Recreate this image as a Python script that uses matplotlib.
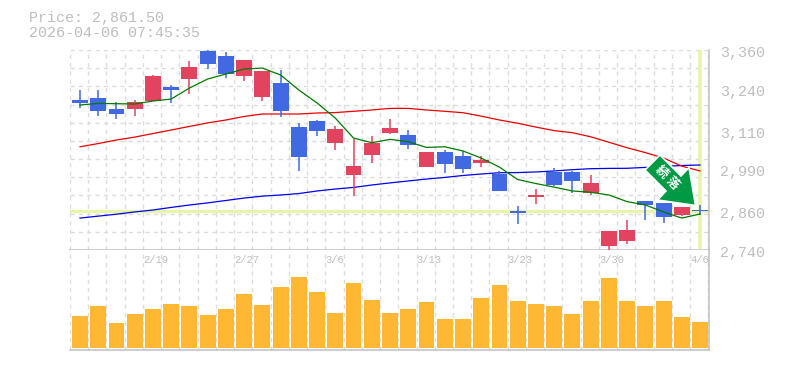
import numpy as np
import matplotlib
matplotlib.use('Agg')
import matplotlib.pyplot as plt
from matplotlib.patches import Polygon

W, H = 785, 370

# price data
opens = [3205, 3211, 3177, 3177, 3202, 3245, 3270, 3357, 3341, 3279.5, 3214.5, 3258, 3121.5, 3140, 3071.5,
         2972.5, 3034.5, 3102.5, 3096.5, 2997.5, 3044, 3031.5, 3009.5, 2975.5, 2861, 2904.5, 2982, 2982, 2916.5,
         2752.5, 2768, 2892, 2885.5, 2848.5, 2862.5]
closes = [3195.5, 3171, 3161.5, 3198.5, 3279.5, 3236, 3307.5, 3316.5, 3285.5, 3329, 3295, 3171, 3028.5, 3109, 3115,
          3000.5, 3071.5, 3118, 3065.5, 3044, 3006.5, 2991, 3019, 2923, 2854.5, 2910.5, 2941.5, 2954, 2947.5,
          2799, 2802, 2879.5, 2842.5, 2873.5, 2861.5]
highs = [3236, 3236, 3199, 3205, 3282.5, 3251.5, 3326, 3360, 3354, 3329, 3295, 3298, 3133.5, 3143, 3124.5,
         3084, 3093.5, 3146, 3112, 3044, 3050, 3047, 3031.5, 2985, 2876.5, 2929, 2994, 2985, 2972.5,
         2799, 2833, 2892, 2885.5, 2873.5, 2879.5]
lows = [3181, 3155.5, 3146, 3155.5, 3202, 3195.5, 3223.5, 3301, 3273, 3264, 3202, 3152.5, 2985, 3093.5, 3050,
        2907.5, 3009.5, 3099.5, 3053, 2997.5, 2978.5, 2978.5, 2997.5, 2923, 2820.5, 2882.5, 2938.5, 2916.5, 2910.5,
        2737, 2758.5, 2833, 2823.5, 2845.5, 2848.5]
volume = [32, 42, 25, 34, 39, 44, 42, 33, 39, 54, 43, 61, 71, 56, 35, 65, 48, 35,
          39, 46, 29, 29, 50, 63, 47, 44, 42, 34, 47, 70, 47, 42, 47, 31, 26]

# moving averages
ma_short = [3189.5, 3194.5, 3193.5, 3192.6, 3201.9, 3208, 3242, 3270, 3285.6, 3301, 3304, 3282.5, 3236, 3195.7, 3149,
            3087, 3072.6, 3083, 3075.7, 3058, 3060, 3047, 3025, 2997, 2958.5, 2946, 2935, 2923, 2919, 2910.5,
            2890, 2879.5, 2858, 2839, 2851.6]
ma_mid = [3060, 3070, 3081, 3090, 3101, 3112, 3123, 3134, 3143, 3154, 3161.6, 3161.6, 3161.6, 3164.7, 3166,
          3170, 3174, 3179, 3179, 3174, 3170, 3165.6, 3155, 3143, 3133, 3121, 3110, 3103.6, 3091, 3074,
          3057, 3042, 3025, 3000, 2985]
ma_long = [2839, 2845, 2851, 2858, 2864, 2872, 2879.5, 2886, 2893.5, 2901, 2907, 2910.5, 2915, 2923, 2929,
           2934, 2941.5, 2948, 2954, 2960, 2965, 2971, 2975.6, 2979.6, 2980, 2982, 2985, 2989, 2992, 2993,
           2993.3, 2996, 2999, 3002, 3003.5]

price_ticks = [3360, 3240, 3110, 2990, 2860, 2740]
price_labels = ['3,360', '3,240', '3,110', '2,990', '2,860', '2,740']
date_pos = [4, 9, 14, 19, 24, 29, 34]
date_labels = ['2/19', '2/27', '3/6', '3/13', '3/23', '3/30', '4/6']
last_price = 2861.5

GREY = '#bebebe'
GRID = '#dcdcdc'
BLUE = '#4169e1'
RED = '#e2435f'
PALE = '#e6f5a8'
MONO = 'Liberation Mono'

fig = plt.figure(figsize=(W / 100, H / 100), dpi=100)
ax = fig.add_axes([70 / W, (H - 250) / H, 639 / W, 200 / H])
ax_v = fig.add_axes([70 / W, (H - 350) / H, 639 / W, 100 / H])

x = np.arange(len(opens))
x_left, x_right = -0.548, 34.49
grid_x = np.arange(len(opens) + 1) - 0.548
grid_y = np.linspace(2740, 3360, 12)

for a in (ax, ax_v):
    a.set_xlim(x_left, x_right)
    a.set_xticks([])
    a.set_yticks([])
    for g in grid_x[1:]:
        a.axvline(g, color=GRID, lw=1, ls=(0, (3, 3)), zorder=1)
    a.axvline(x_left + 0.01, color=GRID, lw=1, ls=(0, (3, 3)), zorder=1)
    for s in ('top', 'left'):
        a.spines[s].set_visible(False)
    for s in ('right', 'bottom'):
        a.spines[s].set_color('#c0c0c0')
        a.spines[s].set_linewidth(1.1)

ax.set_ylim(2740, 3360)
for g in grid_y[1:]:
    ax.axhline(g, color=GRID, lw=1, ls=(0, (3, 3)), zorder=1)

# current price cross hair
ax.axhline(last_price, color=PALE, lw=2.4, zorder=2)
ax.plot([34, 34], [2743, 3360], color=PALE, lw=2.6, zorder=2, solid_capstyle='butt')

ax.plot(x, ma_long, color='#0000ee', lw=0.9, zorder=3)
ax.plot(x, ma_mid, color='#ee0000', lw=0.9, zorder=3)

# candles
for i in x:
    c = RED if closes[i] >= opens[i] else BLUE
    ax.plot([i, i], [lows[i], highs[i]], color=c, lw=1.1, zorder=4, solid_capstyle='butt', clip_on=False)
    ax.bar(i, abs(closes[i] - opens[i]), bottom=min(opens[i], closes[i]), width=0.87, color=c, lw=0, zorder=4)

ax.plot(x, ma_short, color='#007a00', lw=0.9, zorder=5)

ax_v.set_ylim(-2, 98)
ax_v.bar(x, volume, width=0.87, color='#ffb833', lw=0, zorder=3)

# price labels on the right side
for p, lab in zip(price_ticks, price_labels):
    ax.annotate(lab, xy=(1, p), xycoords=('axes fraction', 'data'), xytext=(11, -3), textcoords='offset pixels',
                ha='left', va='center', color=GREY, fontsize=10.8, family=MONO, annotation_clip=False)

# date labels, left edge on the grid line
for d, lab in zip(date_pos, date_labels):
    ax_v.annotate(lab, xy=(grid_x[d], 1), xycoords=('data', 'axes fraction'), xytext=(0, -10), textcoords='offset pixels',
                  ha='left', va='center', color=GREY, fontsize=7.6, family=MONO, zorder=2)

fig.text(29 / W, 1 - 18 / H, 'Price: 2,861.50', color=GREY, fontsize=10.8, family=MONO, va='center')
fig.text(29 / W, 1 - 33 / H, '2026-04-06 07:45:35', color=GREY, fontsize=10.8, family=MONO, va='center')

# signal arrow
arrow_px = [(660, 155), (681, 176), (689, 167.5), (695.5, 205.5), (657.5, 200), (666, 191), (645, 170)]
arrow_fig = [(px / W, 1 - py / H) for px, py in arrow_px]
fig.add_artist(Polygon(arrow_fig, closed=True, transform=fig.transFigure, facecolor='#009944',
                       edgecolor='white', lw=1.2, zorder=10))
for ch, px, py in [('続', 661, 172.5), ('落', 672.5, 183.5)]:
    fig.text(px / W, 1 - py / H, ch, color='white', fontsize=9, fontweight='bold', rotation=-45,
             ha='center', va='center', family=['Noto Sans CJK JP', 'DejaVu Sans'], zorder=11)

plt.savefig('out.png', dpi=100)
